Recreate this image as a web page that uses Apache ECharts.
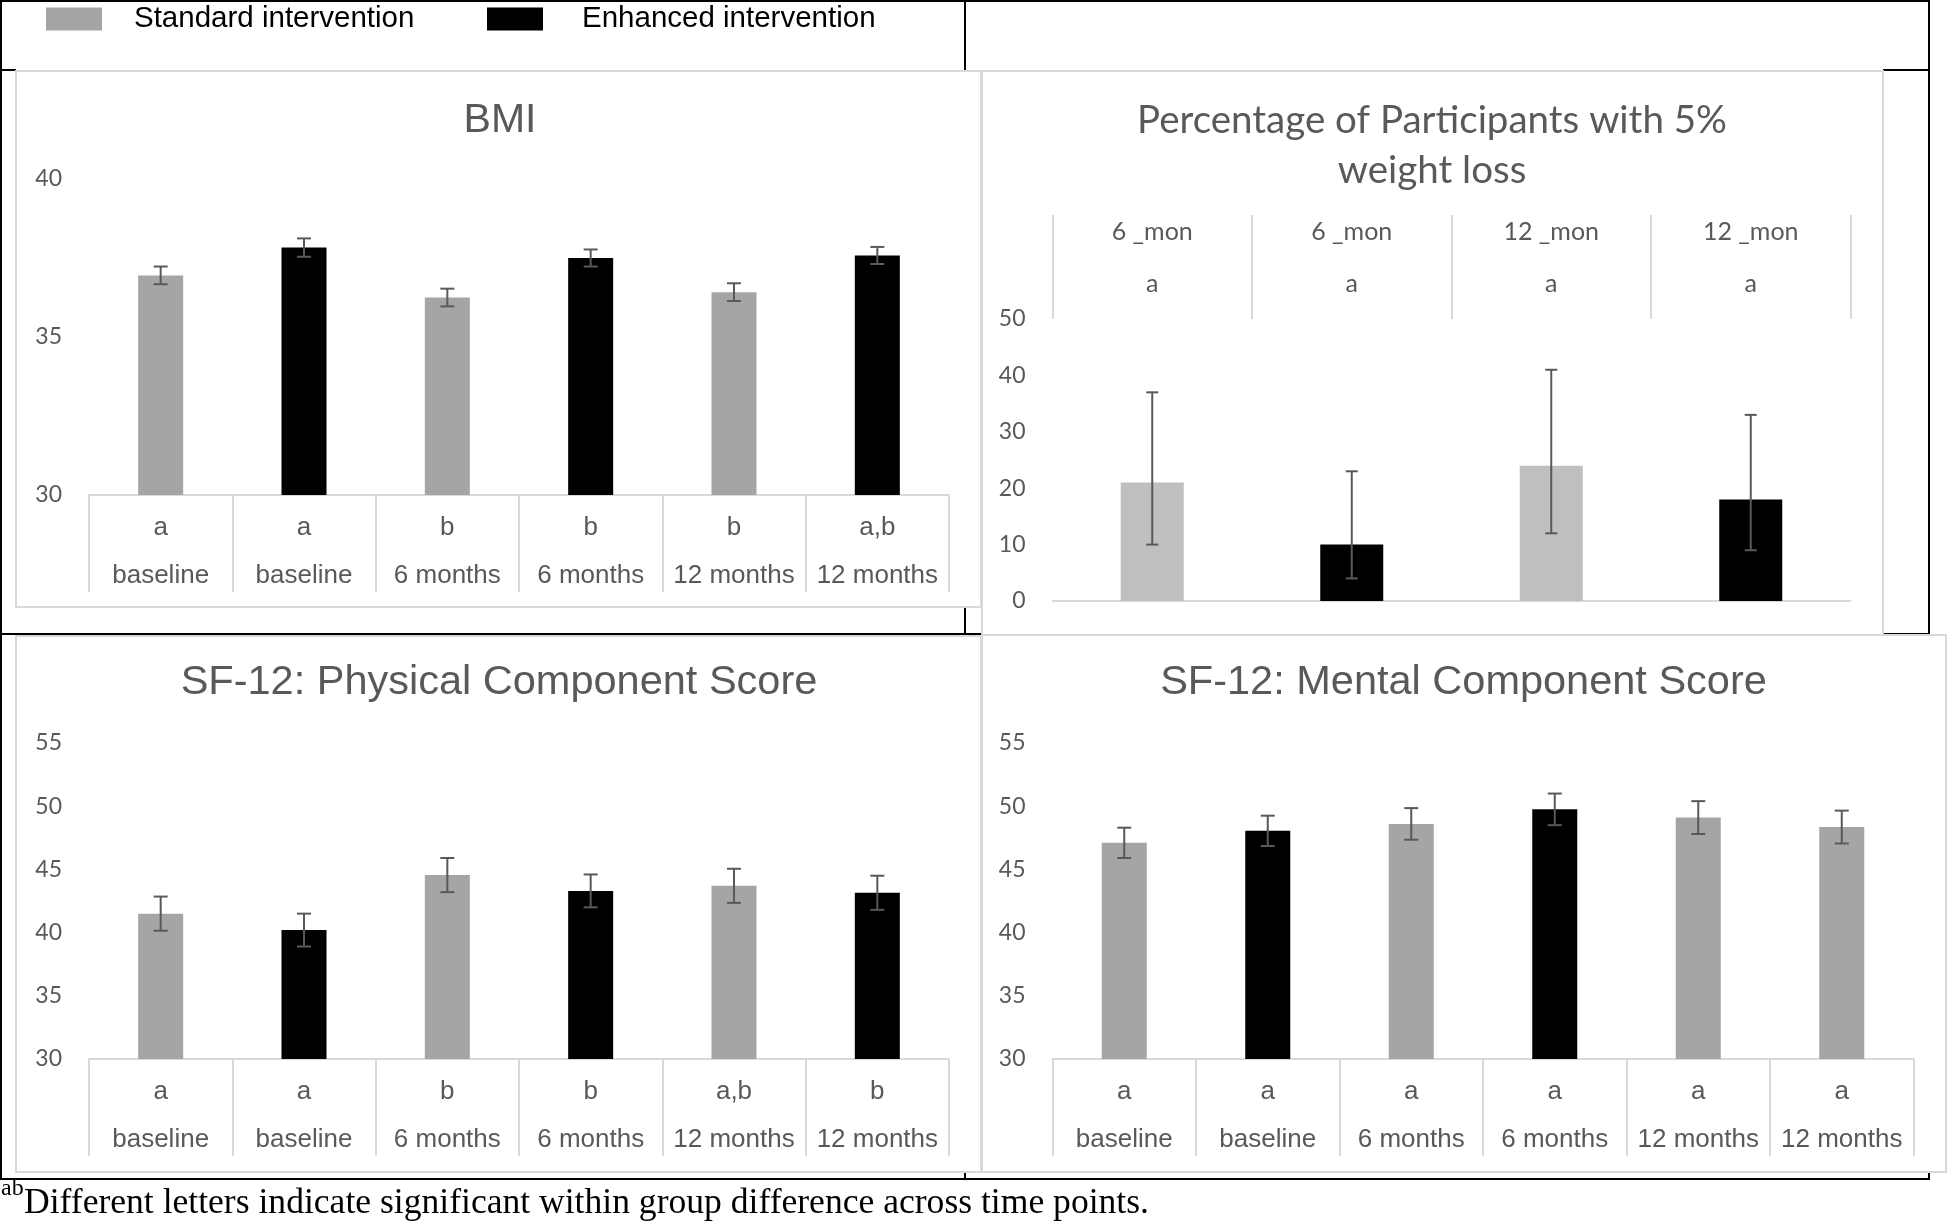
<!DOCTYPE html>
<html>
<head>
<meta charset="utf-8">
<script src="https://cdn.jsdelivr.net/npm/echarts@6/dist/echarts.min.js"></script>
<style>
html,body{margin:0;padding:0;background:#fff;}
#chart{width:1947px;height:1221px;}
</style>
</head>
<body>
<div id="chart"></div>
<script>
// ---------- DATA ----------
const seriesNames = ['Standard intervention', 'Enhanced intervention'];

// BMI
const bmiTime = ['baseline', 'baseline', '6 months', '6 months', '12 months', '12 months'];
const bmiLetters = ['a', 'a', 'b', 'b', 'b', 'a,b'];
const bmiGroup = ['S', 'E', 'S', 'E', 'S', 'E'];
const bmiMean = [36.95, 37.83, 36.25, 37.50, 36.42, 37.58];
const bmiErr = [0.28, 0.29, 0.28, 0.27, 0.28, 0.27];
const bmiTicks = [30, 35, 40];

// Percentage with 5% weight loss
const pctTime = ['6 _mon', '6 _mon', '12 _mon', '12 _mon'];
const pctLetters = ['a', 'a', 'a', 'a'];
const pctGroup = ['S', 'E', 'S', 'E'];
const pctMean = [21, 10, 24, 18];
const pctLow = [10, 4, 12, 9];
const pctHigh = [37, 23, 41, 33];
const pctTicks = [0, 10, 20, 30, 40, 50];

// SF-12 Physical
const pcsTime = ['baseline', 'baseline', '6 months', '6 months', '12 months', '12 months'];
const pcsLetters = ['a', 'a', 'b', 'b', 'a,b', 'b'];
const pcsGroup = ['S', 'E', 'S', 'E', 'S', 'E'];
const pcsMean = [41.5, 40.2, 44.55, 43.3, 43.7, 43.15];
const pcsErr = [1.35, 1.3, 1.35, 1.3, 1.35, 1.35];
const pcsTicks = [30, 35, 40, 45, 50, 55];

// SF-12 Mental
const mcsTime = ['baseline', 'baseline', '6 months', '6 months', '12 months', '12 months'];
const mcsLetters = ['a', 'a', 'a', 'a', 'a', 'a'];
const mcsGroup = ['S', 'E', 'S', 'E', 'S', 'S'];
const mcsMean = [47.1, 48.05, 48.6, 49.75, 49.1, 48.35];
const mcsErr = [1.2, 1.2, 1.25, 1.25, 1.3, 1.3];
const mcsTicks = [30, 35, 40, 45, 50, 55];

const caption = 'Different letters indicate significant within group difference across time points.';

// ---------- STYLE ----------
const GRAY = '#a5a5a5', LIGHT = '#bfbfbf', BLACK = '#000000', TXT = '#595959', BORDER = '#d9d9d9';
const SANS = 'Liberation Sans', CAL = 'Lato', SERIF = 'Liberation Serif';

function bars(idx, means, groups, stdColor, width) {
  return [
    {type: 'bar', name: seriesNames[0], xAxisIndex: idx.x, yAxisIndex: idx.y, barWidth: width, barGap: '-100%',
     itemStyle: {color: stdColor}, data: means.map((v, i) => groups[i] === 'S' ? v : null), animation: false, silent: true},
    {type: 'bar', name: seriesNames[1], xAxisIndex: idx.x, yAxisIndex: idx.y, barWidth: width, barGap: '-100%',
     itemStyle: {color: BLACK}, data: means.map((v, i) => groups[i] === 'E' ? v : null), animation: false, silent: true}
  ];
}
function errBars(idx, lows, highs, cap) {
  return {
    type: 'custom', xAxisIndex: idx.x, yAxisIndex: idx.y, z: 5, silent: true, animation: false,
    encode: {x: 0, y: [1, 2]},
    data: lows.map((l, i) => [i, l, highs[i]]),
    renderItem: function (params, api) {
      const x = api.value(0);
      const lo = api.coord([x, api.value(1)]);
      const hi = api.coord([x, api.value(2)]);
      const st = {stroke: TXT, lineWidth: 2};
      return {type: 'group', children: [
        {type: 'line', shape: {x1: hi[0], y1: hi[1], x2: lo[0], y2: lo[1]}, style: st},
        {type: 'line', shape: {x1: hi[0] - cap, y1: hi[1], x2: hi[0] + cap, y2: hi[1]}, style: st},
        {type: 'line', shape: {x1: lo[0] - cap, y1: lo[1], x2: lo[0] + cap, y2: lo[1]}, style: st}
      ]};
    }
  };
}
function catAxis(grid, data, letters) {
  return {
    gridIndex: grid, type: 'category', data: data, position: 'bottom',
    axisLine: {onZero: false, lineStyle: {color: BORDER, width: 2}},
    axisTick: {show: true, interval: 0, length: 97, lineStyle: {color: BORDER, width: 2}},
    axisLabel: {interval: 0, margin: 9, lineHeight: 48, fontSize: 26, fontFamily: SANS, color: TXT,
      formatter: (v, i) => letters[i] + '\n' + v},
    splitLine: {show: false}
  };
}
function valAxis(grid, ticks) {
  return {
    gridIndex: grid, type: 'value', min: ticks[0], max: ticks[ticks.length - 1], interval: ticks[1] - ticks[0],
    axisLine: {show: false}, axisTick: {show: false}, splitLine: {show: false},
    axisLabel: {margin: 27, fontSize: 23, fontFamily: CAL, color: TXT}
  };
}

const lows = (m, e) => m.map((v, i) => v - e[i]);
const highs = (m, e) => m.map((v, i) => v + e[i]);

const line = (x1, y1, x2, y2) => ({type: 'line', silent: true, shape: {x1, y1, x2, y2}, style: {stroke: '#000', lineWidth: 2}});
const panel = (x, y, w, h) => ({type: 'rect', silent: true, shape: {x, y, width: w, height: h}, style: {fill: 'rgba(0,0,0,0)', stroke: BORDER, lineWidth: 2}});
const title = (x, y, text, font, size, lh) => ({type: 'text', silent: true, x: x, y: y,
  style: {text: text, fill: TXT, font: size + 'px "' + font + '"', align: 'center', verticalAlign: 'middle', lineHeight: lh || size}});

const chart = echarts.init(document.getElementById('chart'), null, {renderer: 'canvas'});

const option = {
  backgroundColor: '#ffffff',
  animation: false,
  legend: [
    {left: 46, top: 4, padding: 0, icon: 'rect', itemWidth: 56, itemHeight: 23, selectedMode: false,
     data: [{name: seriesNames[0], itemStyle: {color: GRAY}}],
     textStyle: {fontFamily: SANS, fontSize: 29.5, color: '#000', padding: [9, 0, 0, 27]}},
    {left: 487, top: 4, padding: 0, icon: 'rect', itemWidth: 56, itemHeight: 23, selectedMode: false,
     data: [{name: seriesNames[1], itemStyle: {color: BLACK}}],
     textStyle: {fontFamily: SANS, fontSize: 29.5, color: '#000', padding: [9, 0, 0, 34]}}
  ],
  grid: [
    {left: 89, top: 179, width: 860, height: 316},
    {left: 1052.5, top: 319, width: 798, height: 282},
    {left: 89, top: 743, width: 860, height: 316},
    {left: 1052.5, top: 743, width: 861, height: 316}
  ],
  xAxis: [
    catAxis(0, bmiTime, bmiLetters),
    {gridIndex: 1, type: 'category', data: pctTime, position: 'top',
     axisLine: {show: false, onZero: false},
     axisTick: {show: true, interval: 0, length: 104, lineStyle: {color: BORDER, width: 2}},
     axisLabel: {interval: 0, margin: 9, lineHeight: 52, fontSize: 25, fontFamily: CAL, color: TXT,
       formatter: (v, i) => v + '\n' + pctLetters[i]},
     splitLine: {show: false}},
    catAxis(2, pcsTime, pcsLetters),
    catAxis(3, mcsTime, mcsLetters),
    {gridIndex: 1, type: 'category', data: pctTime, position: 'bottom',
     axisLine: {onZero: false, lineStyle: {color: BORDER, width: 2}},
     axisTick: {show: false}, axisLabel: {show: false}, splitLine: {show: false}}
  ],
  yAxis: [
    valAxis(0, bmiTicks),
    valAxis(1, pctTicks),
    valAxis(2, pcsTicks),
    valAxis(3, mcsTicks)
  ],
  series: [].concat(
    bars({x: 0, y: 0}, bmiMean, bmiGroup, GRAY, 45),
    [errBars({x: 0, y: 0}, lows(bmiMean, bmiErr), highs(bmiMean, bmiErr), 7)],
    bars({x: 1, y: 1}, pctMean, pctGroup, LIGHT, 63),
    [errBars({x: 1, y: 1}, pctLow, pctHigh, 6)],
    bars({x: 2, y: 2}, pcsMean, pcsGroup, GRAY, 45),
    [errBars({x: 2, y: 2}, lows(pcsMean, pcsErr), highs(pcsMean, pcsErr), 7)],
    bars({x: 3, y: 3}, mcsMean, mcsGroup, GRAY, 45),
    [errBars({x: 3, y: 3}, lows(mcsMean, mcsErr), highs(mcsMean, mcsErr), 7)]
  ),
  graphic: {
    elements: [
      // outer table lines
      line(0, 1, 1929, 1),
      line(1, 0, 1, 1180),
      line(1929, 0, 1929, 635),
      line(1929, 1172, 1929, 1180),
      line(0, 1179, 1929, 1179),
      line(965, 0, 965, 71),
      line(965, 607, 965, 634),
      line(965, 1172, 965, 1179),
      line(0, 70, 16, 70),
      line(1883, 70, 1929, 70),
      line(0, 634, 981, 634),
      line(1883, 634, 1929, 634),
      // chart panels
      panel(16, 71, 965, 536),
      panel(982, 71, 901, 564),
      panel(16, 636, 965, 536),
      panel(982, 635, 964, 537),
      // titles
      title(500, 121, 'BMI', SANS, 41),
      title(1432, 146, 'Percentage of Participants with 5%\nweight loss', CAL, 38.5, 50),
      title(499, 683, 'SF-12: Physical Component Score', SANS, 41.5),
      title(1463.5, 683, 'SF-12: Mental Component Score', SANS, 41.5),
      // footnote
      {type: 'text', silent: true, x: 1, y: 1189, style: {text: 'ab', fill: '#000', font: '24px "' + SERIF + '"', align: 'left', verticalAlign: 'middle'}},
      {type: 'text', silent: true, x: 24, y: 1204, style: {text: caption, fill: '#000', font: '35.6px "' + SERIF + '"', align: 'left', verticalAlign: 'middle'}}
    ]
  }
};
chart.setOption(option);
</script>
</body>
</html>
